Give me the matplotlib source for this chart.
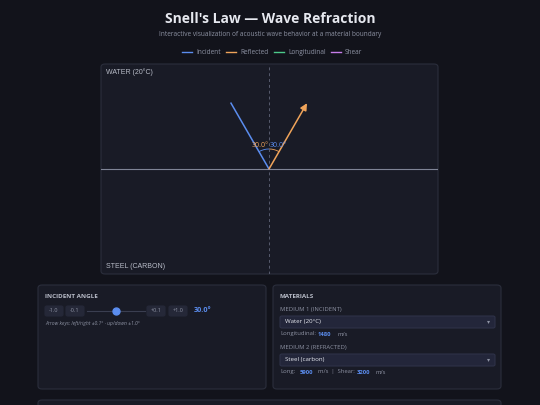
import numpy as np
import matplotlib
matplotlib.use("Agg")
from matplotlib import pyplot as plt
from matplotlib.patches import FancyBboxPatch, Arc

W, H = 540, 405
BG = "#12131b"
PANEL = "#191b26"
EDGE = "#2b2e3c"
TEXT = "#e6e8ef"
MUTED = "#8d92a3"
BLUE = "#5b8def"
ORANGE = "#f0a45a"

incident_angle = 30.0
medium1 = "Water (20°C)"
medium2 = "Steel (carbon)"
v_long1 = 1480
v_long2 = 5900
v_shear2 = 3200
legend_names = ["Incident", "Reflected", "Longitudinal", "Shear"]
legend_colors = [BLUE, ORANGE, "#4cc98a", "#c77dea"]
ray_length = 76

plt.rcParams["font.family"] = ["Open Sans", "DejaVu Sans"]
fig = plt.figure(figsize=(W / 100, H / 100), dpi=100, facecolor=BG)


def fx(x):
    return x / W


def fy(y):
    return 1 - y / H


def box(x0, y0, x1, y1, fc=PANEL, ec=EDGE, r=4, lw=0.8):
    fig.patches.append(FancyBboxPatch((fx(x0), fy(y1)), fx(x1 - x0), (y1 - y0) / H,
                                      boxstyle=f"round,pad=0,rounding_size={r / W}",
                                      transform=fig.transFigure, fc=fc, ec=ec, lw=lw, zorder=0))


def txt(x, y, s, size=5, color=MUTED, **kw):
    fig.text(fx(x), fy(y), s, fontsize=size, color=color, va="center", **kw)


# header
txt(270, 19, "Snell's Law — Wave Refraction", 10, TEXT, ha="center", weight="bold")
txt(270, 34, "Interactive visualization of acoustic wave behavior at a material boundary", 4.7, MUTED, ha="center")
lx = [182, 226, 274, 331]
for x, name, c in zip(lx, legend_names, legend_colors):
    fig.lines.append(plt.Line2D([fx(x), fx(x + 10)], [fy(52), fy(52)], color=c, lw=1, transform=fig.transFigure))
    txt(x + 14, 52, name, 4.7, MUTED)

# diagram panel
box(101, 64, 438, 274)
ax = fig.add_axes([fx(101), fy(274), fx(337), 210 / H])
ax.set_zorder(2)
ax.set_xlim(-168, 169)
ax.set_ylim(-105, 105)
ax.axis("off")
ax.axhline(0, color="#7f8496", lw=0.8)
ax.axvline(0, color="#575c6e", lw=0.7, ls=(0, (3, 3)))
a = np.radians(incident_angle)
dx, dy = ray_length * np.sin(a), ray_length * np.cos(a)
ax.plot([-dx, 0], [dy, 0], color=BLUE, lw=1.1)
ax.annotate("", xy=(dx, dy), xytext=(0, 0),
            arrowprops=dict(arrowstyle="-|>,head_length=0.4,head_width=0.2", color=ORANGE, lw=1.1,
                            shrinkA=0, shrinkB=0))
ax.add_patch(Arc((0, 0), 40, 40, theta1=90, theta2=90 + incident_angle, color=BLUE, lw=0.6))
ax.add_patch(Arc((0, 0), 40, 40, theta1=90 - incident_angle, theta2=90, color=ORANGE, lw=0.6))
ax.text(-0.5, 24, f"{incident_angle:.1f}°", fontsize=5, color=ORANGE, ha="right", va="center")
ax.text(0.5, 24, f"{incident_angle:.1f}°", fontsize=5, color=BLUE, ha="left", va="center")
txt(106, 72, "WATER (20°C)", 5, "#b9bdc9", family=["Liberation Sans"])
txt(106, 267, "STEEL (CARBON)", 5, "#b9bdc9", family=["Liberation Sans"])

# incident angle panel
box(38, 285, 266, 389)
txt(45, 297, "INCIDENT ANGLE", 4.5, "#b9bdc9", weight="bold")
for x, s in [(45, "-1.0"), (66, "-0.1"), (147, "+0.1"), (169, "+1.0")]:
    box(x, 306, x + 18, 316, fc="#252838", ec="#252838", r=2)
    txt(x + 9, 311, s, 4, MUTED, ha="center")
fig.lines.append(plt.Line2D([fx(87), fx(145)], [fy(311), fy(311)], color="#3a3e50", lw=0.8, transform=fig.transFigure))
fig.lines.append(plt.Line2D([fx(116)], [fy(311)], marker="o", ms=5, color=BLUE, transform=fig.transFigure))
txt(194, 311, f"{incident_angle:.1f}°", 5.2, BLUE, weight="bold")
txt(45, 323, "Arrow keys: left/right ±0.1° · up/down ±1.0°", 3.6, MUTED, style="italic")

# materials panel
box(273, 285, 501, 389)
txt(280, 297, "MATERIALS", 4.5, "#b9bdc9", weight="bold")
txt(280, 309, "MEDIUM 1 (INCIDENT)", 4.2, MUTED)
box(280, 316, 495, 328, fc="#23263a", ec="#2e3248", r=2)
txt(285, 322, medium1, 4.4, TEXT)
txt(490, 322, "▾", 4.4, MUTED, ha="right")
txt(280, 334, "Longitudinal:", 4.2, MUTED)
txt(318, 334, str(v_long1), 4.2, BLUE, weight="bold")
txt(337, 334, "m/s", 4.2, MUTED)
txt(280, 347, "MEDIUM 2 (REFRACTED)", 4.2, MUTED)
box(280, 354, 495, 366, fc="#23263a", ec="#2e3248", r=2)
txt(285, 360, medium2, 4.4, TEXT)
txt(490, 360, "▾", 4.4, MUTED, ha="right")
txt(280, 372, "Long:", 4.2, MUTED)
txt(300, 372, str(v_long2), 4.2, BLUE, weight="bold")
txt(318, 372, "m/s  |  Shear:", 4.2, MUTED)
txt(357, 372, str(v_shear2), 4.2, BLUE, weight="bold")
txt(375, 372, "m/s", 4.2, MUTED)

# next panel peeking at bottom
box(38, 400, 501, 420)

fig.savefig("out.png", dpi=100, facecolor=BG)
